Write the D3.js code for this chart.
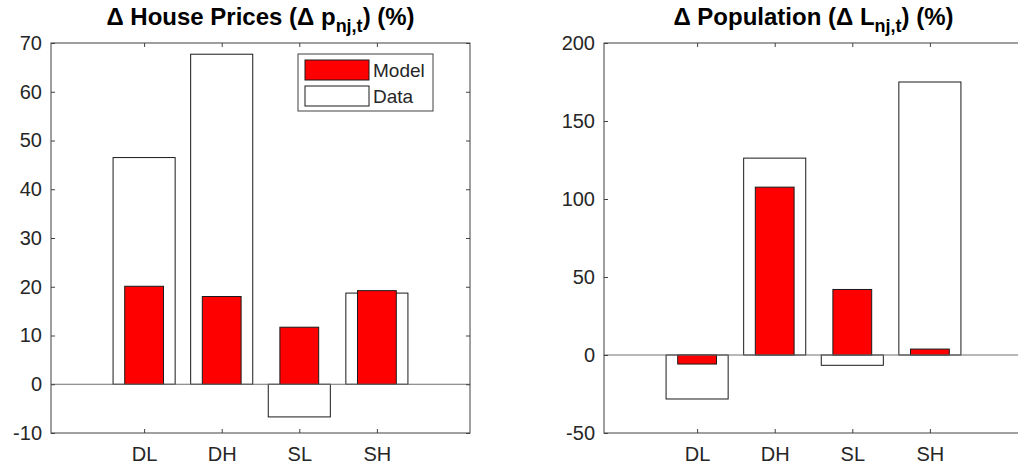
<!DOCTYPE html>
<html>
<head>
<meta charset="utf-8">
<script src="https://cdn.jsdelivr.net/npm/d3@7"></script>
<style>
  html, body { margin: 0; padding: 0; background: #fff; }
  svg { display: block; }
  text { font-family: "Liberation Sans", Arial, sans-serif; }
</style>
</head>
<body>
<svg id="chart" width="1018" height="470"></svg>
<script>
// ---- Data ----
const categories = ["DL", "DH", "SL", "SH"];
const priceModel = [20.1, 18.0, 11.7, 19.2];
const priceData  = [46.5, 67.7, -6.7, 18.7];
const popModel   = [-5.8, 107.6, 42.0, 3.8];
const popData    = [-28.2, 126.2, -6.6, 175.0];
const priceTicks = [-10, 0, 10, 20, 30, 40, 50, 60, 70];
const popTicks   = [-50, 0, 50, 100, 150, 200];
const legendLabels = ["Model", "Data"];

const svg = d3.select("#chart");
const textColor = "#262626";
const axisColor = "#404040";

function panel(cfg) {
  const { left, right, top, bottom, yDomain, yTicks, model, data, titleMain, titleSub, legend } = cfg;
  const g = svg.append("g");
  const x = d3.scaleLinear().domain([-0.2, 5.2]).range([left, right]);
  const y = d3.scaleLinear().domain(yDomain).range([bottom, top]);
  const step = x(1) - x(0);

  g.selectAll("rect.data").data(data).join("rect")
    .attr("class", "data")
    .attr("x", (d, i) => x(i + 1) - 0.4 * step)
    .attr("width", 0.8 * step)
    .attr("y", d => y(Math.max(0, d)))
    .attr("height", d => Math.abs(y(d) - y(0)))
    .attr("fill", "#fff").attr("stroke", "#1a1a1a").attr("stroke-width", 1);

  g.selectAll("rect.model").data(model).join("rect")
    .attr("class", "model")
    .attr("x", (d, i) => x(i + 1) - 0.25 * step)
    .attr("width", 0.5 * step)
    .attr("y", d => y(Math.max(0, d)))
    .attr("height", d => Math.abs(y(d) - y(0)))
    .attr("fill", "#ff0000").attr("stroke", "#1a1a1a").attr("stroke-width", 1);

  // baseline
  g.append("line")
    .attr("x1", left).attr("x2", right)
    .attr("y1", y(0)).attr("y2", y(0))
    .attr("stroke", "#707070").attr("stroke-width", 1);

  // axes box
  g.append("rect")
    .attr("x", left).attr("y", top)
    .attr("width", right - left).attr("height", bottom - top)
    .attr("fill", "none").attr("stroke", axisColor).attr("stroke-width", 1);

  const tl = 4;
  const yAxis = d3.axisLeft(y).tickValues(yTicks).tickSize(-tl).tickPadding(9)
    .tickFormat(d => String(d));
  const ya = g.append("g").attr("transform", `translate(${left},0)`).call(yAxis);
  const yAxisR = d3.axisRight(y).tickValues(yTicks).tickSize(-tl).tickFormat("");
  const yr = g.append("g").attr("transform", `translate(${right},0)`).call(yAxisR);
  const xAxis = d3.axisBottom(x).tickValues([1, 2, 3, 4]).tickSize(-tl).tickPadding(14)
    .tickFormat((d) => categories[d - 1]);
  const xa = g.append("g").attr("transform", `translate(0,${bottom})`).call(xAxis);
  const xAxisT = d3.axisTop(x).tickValues([1, 2, 3, 4]).tickSize(-tl).tickFormat("");
  const xt = g.append("g").attr("transform", `translate(0,${top})`).call(xAxisT);

  [ya, yr, xa, xt].forEach(a => {
    a.select(".domain").remove();
    a.selectAll(".tick line").attr("stroke", axisColor);
    a.selectAll(".tick text").attr("fill", textColor)
      .style("font-family", "'Liberation Sans', Arial, sans-serif")
      .style("font-size", "20px");
  });

  // title
  const t = g.append("text")
    .attr("x", (left + right) / 2).attr("y", 25)
    .attr("text-anchor", "middle")
    .attr("fill", "#000")
    .style("font-weight", "bold").style("font-size", "24px");
  t.append("tspan").text(titleMain);
  t.append("tspan").text(titleSub).attr("dy", 7).style("font-size", "18px");
  t.append("tspan").text(") (%)").attr("dy", -7);

  if (legend) {
    const lg = g.append("g");
    lg.append("rect").attr("x", 298).attr("y", 54).attr("width", 135).attr("height", 57)
      .attr("fill", "#fff").attr("stroke", axisColor).attr("stroke-width", 1);
    const fills = ["#ff0000", "#fff"];
    legendLabels.forEach((lab, i) => {
      lg.append("rect").attr("x", 305).attr("y", 60 + i * 26).attr("width", 64).attr("height", 20)
        .attr("fill", fills[i]).attr("stroke", "#1a1a1a").attr("stroke-width", 1);
      lg.append("text").attr("x", 373).attr("y", 77 + i * 26)
        .attr("fill", textColor).style("font-size", "19px").text(lab);
    });
  }
}

panel({
  left: 51, right: 470, top: 43, bottom: 433,
  yDomain: [-10, 70], yTicks: priceTicks,
  model: priceModel, data: priceData,
  titleMain: "\u0394 House Prices (\u0394 p", titleSub: "nj,t", legend: true
});
panel({
  left: 604, right: 1023, top: 43, bottom: 433,
  yDomain: [-50, 200], yTicks: popTicks,
  model: popModel, data: popData,
  titleMain: "\u0394 Population (\u0394 L", titleSub: "nj,t", legend: false
});
</script>
</body>
</html>
